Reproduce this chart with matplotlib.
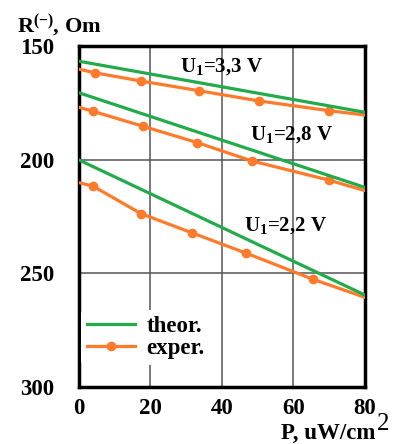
import matplotlib.pyplot as plt

plt.rcParams['font.family'] = 'Liberation Serif'
plt.rcParams['font.weight'] = 'bold'
plt.rcParams['mathtext.fontset'] = 'custom'
plt.rcParams['mathtext.rm'] = 'Liberation Serif:bold'
plt.rcParams['mathtext.it'] = 'Liberation Serif:bold'
plt.rcParams['mathtext.bf'] = 'Liberation Serif:bold'

# theoretical curves (straight lines)
p_theor = [0, 80]
r_theor_33 = [156.5, 179.0]
r_theor_28 = [170.4, 212.1]
r_theor_22 = [200.0, 259.5]

# experimental curves (first and last entries are line ends, no marker)
p_exp_33 = [0, 4.5, 17.3, 33.6, 50.4, 70.0, 80]
r_exp_33 = [160.0, 161.6, 165.2, 169.5, 174.0, 178.3, 180.2]
p_exp_28 = [0, 3.8, 17.8, 33.0, 48.3, 70.0, 80]
r_exp_28 = [176.8, 178.5, 185.1, 192.3, 200.4, 208.9, 213.5]
p_exp_22 = [0, 3.9, 17.3, 31.6, 46.7, 65.5, 80]
r_exp_22 = [210.0, 211.5, 223.6, 232.1, 241.0, 252.6, 260.5]

labels = [r'U$_1$=3,3 V', r'U$_1$=2,8 V', r'U$_1$=2,2 V']
label_pos = [(28.3, 161.2), (47.8, 190.9), (46.2, 231.2)]

green = '#22ab4a'
orange = '#ff7a2a'

fig = plt.figure(figsize=(3.96, 4.44), dpi=100)
ax = fig.add_axes([0.1995, 0.1284, 0.7222, 0.7669])

for px, rx in [(p_exp_33, r_exp_33), (p_exp_28, r_exp_28), (p_exp_22, r_exp_22)]:
    h_exp, = ax.plot(px, rx, color=orange, lw=2.3, marker='o', ms=6,
                     markevery=slice(1, 6), zorder=3)
for rt in [r_theor_33, r_theor_28, r_theor_22]:
    h_th, = ax.plot(p_theor, rt, color=green, lw=2.3, zorder=4)

for txt, (x, y) in zip(labels, label_pos):
    ax.text(x, y, txt, fontsize=15, fontweight='bold', va='baseline', zorder=5)

ax.set_xlim(0, 80)
ax.set_ylim(300, 150)
ax.set_xticks([0, 20, 40, 60, 80])
ax.set_yticks([150, 200, 250, 300])
ax.tick_params(axis='y', length=0, pad=18, labelsize=16.5)
ax.tick_params(axis='x', length=0, pad=8, labelsize=16.5)
ax.grid(True, color='#555555', lw=1.1)
ax.set_axisbelow(True)
for s in ax.spines.values():
    s.set_linewidth(2.5)

leg = ax.legend([h_th, h_exp], ['theor.', 'exper.'], loc='upper left',
                bbox_to_anchor=(0.0, 0.233), frameon=True, fontsize=16.5,
                handlelength=2.1, handletextpad=0.5, labelspacing=0.05,
                borderpad=0.25, borderaxespad=0.1)
leg.get_frame().set_edgecolor('none')
leg.get_frame().set_facecolor('white')
leg.get_frame().set_alpha(1)

fig.text(17 / 396, 1 - 32 / 444, r'R$^{(-)}$, Om', fontsize=16, fontweight='bold', va='baseline')
fig.text(375 / 396, 1 - 439 / 444, 'P, uW/cm', fontsize=16.5, fontweight='bold', va='baseline', ha='right')
fig.text(377 / 396, 1 - 430 / 444, '2', fontsize=18, fontweight='normal', va='baseline', ha='left')

fig.savefig('out.png', dpi=100)
